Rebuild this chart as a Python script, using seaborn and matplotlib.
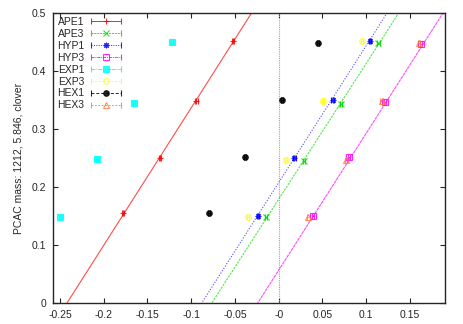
import numpy as np
import pandas as pd
import seaborn as sns
import matplotlib
matplotlib.use("Agg")
import matplotlib.pyplot as plt
from matplotlib.legend_handler import HandlerErrorbar

sns.set_style("ticks")
plt.rcParams["font.family"] = ["Liberation Sans", "DejaVu Sans"]

# data points
labels = ["APE1", "APE3", "HYP1", "HYP3", "EXP1", "EXP3", "HEX1", "HEX3"]
x_ape1 = [-0.178, -0.136, -0.094, -0.0525]
y_ape1 = [0.155, 0.25, 0.348, 0.452]
x_ape3 = [-0.015, 0.0285, 0.071, 0.114]
y_ape3 = [0.148, 0.245, 0.343, 0.448]
x_hyp1 = [-0.024, 0.018, 0.0615, 0.104]
y_hyp1 = [0.15, 0.25, 0.35, 0.452]
x_hyp3 = [0.039, 0.080, 0.121, 0.163]
y_hyp3 = [0.15, 0.251, 0.346, 0.446]
x_exp1 = [-0.25, -0.208, -0.1655, -0.122]
y_exp1 = [0.148, 0.248, 0.345, 0.45]
x_exp3 = [-0.0355, 0.008, 0.051, 0.095]
y_exp3 = [0.148, 0.247, 0.348, 0.452]
x_hex1 = [-0.080, -0.0385, 0.0034, 0.0445]
y_hex1 = [0.155, 0.252, 0.35, 0.448]
x_hex3 = [0.034, 0.0765, 0.1175, 0.160]
y_hex3 = [0.148, 0.247, 0.348, 0.448]
x_err = 0.0012

# linear fits: y = slope * (x - x0)
fit_labels = ["APE1", "APE3", "HYP1", "HYP3"]
fit_x0 = [-0.242, -0.0765, -0.088, -0.024]
fit_slope = [2.37, 2.34, 2.36, 2.36]

colors = ["#ff0000", "#00e000", "#0000ff", "#ff00ff", "#00ffff", "#ffff00", "#000000", "#ff8040"]
markers = ["+", "x", (8, 2, 0), "s", "s", "o", "o", "^"]
filled = [True, True, True, False, True, False, True, False]
bar_ls = ["-", (0, (2, 1)), (0, (1, 1.5)), (0, (3, 1, 1, 1)), (0, (4, 1, 1, 1)), (0, (2, 2)), (0, (3, 2)), (0, (2, 1.5))]
fit_ls = ["-", (0, (2, 1)), (0, (1, 1.5)), (0, (3, 0.6))]

xs = [x_ape1, x_ape3, x_hyp1, x_hyp3, x_exp1, x_exp3, x_hex1, x_hex3]
ys = [y_ape1, y_ape3, y_hyp1, y_hyp3, y_exp1, y_exp3, y_hex1, y_hex3]

fig = plt.figure(figsize=(4.63, 3.24), dpi=100)
ax = fig.add_axes([0.1145, 0.0648, 0.8465, 0.8952])
xlim = (-0.258, 0.19)

for i, lab in enumerate(labels):
    mfc = colors[i] if filled[i] else "none"
    eb = ax.errorbar(xs[i], ys[i], xerr=x_err, ls="none",
                     marker=markers[i], ms=4 if markers[i] != "+" else 4.5,
                     mfc=mfc, mec=colors[i], mew=0.8, ecolor=colors[i],
                     elinewidth=0.7, capsize=2.2, capthick=0.7, label=lab, alpha=0.85)
    eb[2][0].set_linestyle(bar_ls[i])

for i, lab in enumerate(fit_labels):
    fx = np.array(xlim)
    fit_df = pd.DataFrame({"x": fx, "y": fit_slope[i] * (fx - fit_x0[i])})
    sns.lineplot(data=fit_df, x="x", y="y", ax=ax, color=colors[i], lw=0.8,
                 linestyle=fit_ls[i], alpha=0.7, legend=False)

ax.axvline(0, color="#a0a0a0", lw=0.8, ls=(0, (1, 1)))

ax.set_xlim(*xlim)
ax.set_ylim(0, 0.5)
xt = np.arange(-0.25, 0.16, 0.05)
yt = np.arange(0, 0.51, 0.1)
ax.set_xticks(xt)
ax.set_yticks(yt)
ax.set_xticklabels(["%g" % round(t, 2) for t in xt])
ax.set_yticklabels(["%g" % round(t, 1) for t in yt])
ax.tick_params(direction="in", top=True, right=True, length=3.5, width=0.8,
               labelsize=7.5, pad=5)
for s in ax.spines.values():
    s.set_linewidth(1.0)
ax.set_xlabel("")
ax.set_ylabel("PCAC mass: 1212, 5.846, clover", fontsize=7.5, labelpad=6)

ax.legend(loc="upper left", markerfirst=False, frameon=False, fontsize=7.5,
          handlelength=3.0, handletextpad=0.6, labelspacing=0.18,
          borderaxespad=0.3, borderpad=0.1,
          handler_map={type(eb): HandlerErrorbar(xerr_size=1.45)})

fig.savefig("out.png", dpi=100)
